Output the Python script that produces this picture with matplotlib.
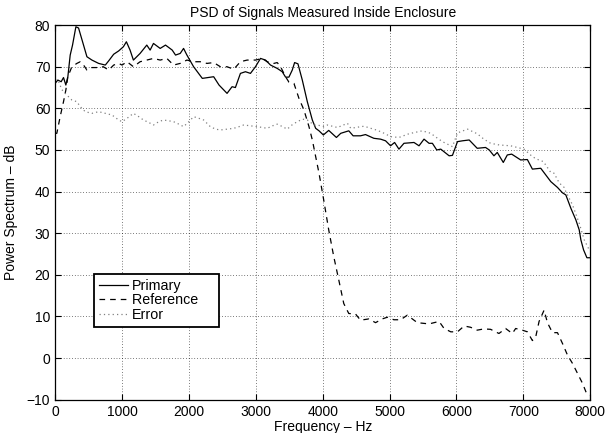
import matplotlib
matplotlib.use('Agg')
import matplotlib.pyplot as plt

plt.rcParams['font.family'] = ['Liberation Sans', 'DejaVu Sans']

# Primary signal PSD (Hz, dB)
f_primary = [0, 40, 90, 125, 160, 190, 225, 260, 310, 350, 410, 475, 550, 650, 750, 800,
             875, 950, 1020, 1065, 1120, 1170, 1270, 1370, 1420, 1470, 1570, 1650, 1750,
             1800, 1870, 1920, 1970, 2070, 2200, 2370, 2450, 2570, 2645, 2695, 2770, 2845,
             2920, 2995, 3070, 3145, 3220, 3320, 3395, 3445, 3495, 3545, 3580, 3630, 3695,
             3770, 3845, 3895, 3945, 4010, 4090, 4205, 4270, 4390, 4455, 4565, 4640, 4765,
             4865, 4940, 5015, 5075, 5140, 5215, 5365, 5440, 5515, 5590, 5640, 5705, 5765,
             5890, 5940, 6015, 6090, 6190, 6310, 6435, 6490, 6560, 6610, 6700, 6760, 6825,
             6960, 7060, 7135, 7260, 7335, 7410, 7510, 7585, 7635, 7710, 7785, 7835, 7860,
             7900, 7950, 8000]
primary = [66, 66.8, 66.4, 67.4, 65.6, 67.6, 72.8, 75.2, 79.6, 79.3, 76, 72.4, 71.6, 70.8,
           70.4, 71.4, 73, 73.8, 74.8, 76, 74, 71.6, 73.2, 75.2, 74, 75.6, 74.4, 75.2, 74,
           72.8, 73.2, 74.4, 72.8, 70, 67.2, 67.6, 65.6, 63.6, 65.2, 65, 68.4, 68.8, 68.4,
           70, 72, 71.6, 70.4, 69.6, 68.8, 67.5, 67.5, 69.2, 71, 70.7, 66.8, 61.6, 57.2,
           55.2, 54.6, 53.6, 54.7, 53, 54, 54.6, 53.4, 53.4, 53.7, 52.8, 52.6, 52.2, 51,
           51.8, 50.2, 51.6, 51.8, 51, 52.6, 51.6, 51.6, 50, 50.2, 48.6, 48.7, 52, 52.2,
           52.4, 50.4, 50.6, 50, 48.6, 49.4, 47, 48.8, 49, 47.6, 47.7, 45.4, 45.6, 44,
           42.4, 41, 39.7, 39.2, 36, 33.2, 30.8, 28.4, 26, 24.1, 24.1]

# Reference signal PSD
f_reference = [0, 25, 75, 125, 160, 190, 250, 325, 375, 425, 475, 550, 650, 720, 800, 875,
               950, 1000, 1075, 1170, 1270, 1370, 1470, 1570, 1670, 1770, 1870, 1970, 2070,
               2170, 2270, 2370, 2470, 2570, 2670, 2770, 2870, 2995, 3095, 3170, 3270, 3320,
               3370, 3445, 3495, 3570, 3645, 3720, 3795, 3845, 3895, 3945, 4015, 4090, 4165,
               4240, 4315, 4390, 4490, 4565, 4690, 4790, 4890, 4965, 5065, 5165, 5265, 5340,
               5415, 5590, 5740, 5815, 5915, 6015, 6115, 6210, 6310, 6410, 6510, 6635, 6735,
               6835, 6885, 6985, 7060, 7135, 7185, 7235, 7310, 7360, 7435, 7510, 7585, 7660,
               7735, 7810, 7885, 7935, 8000]
reference = [54, 54, 58, 61.6, 64.4, 67.6, 70, 70.8, 71.2, 70.4, 69.2, 69.8, 69.8, 70, 69.2,
             70.4, 70.8, 70.4, 71.2, 70, 71.2, 71.6, 72, 71.6, 72, 70.4, 70.8, 71.6, 71.2,
             71.2, 70.8, 71, 70, 70, 69.4, 71.2, 71.6, 71.6, 72, 71.2, 70.8, 71, 70, 67.6,
             66.3, 66, 62.4, 59.6, 55.6, 52.4, 48.4, 44.4, 38, 30.8, 24.4, 18.8, 13.1, 10.7,
             10.6, 9.1, 9.4, 8.5, 9.4, 9.8, 9.2, 9.2, 10.3, 9.4, 8.5, 8.2, 8.8, 7.1, 6.3, 6.3,
             7.7, 7.4, 6.7, 7, 6.9, 5.9, 7.1, 5.9, 7.1, 6.7, 6.3, 4.2, 5.1, 8.8, 11.5, 8.5,
             6.1, 6.1, 3.5, 0.7, -1.3, -3.7, -6.1, -8.1, -9]

# Error signal PSD
f_error = [0, 50, 100, 150, 250, 325, 375, 450, 550, 650, 750, 850, 950, 1000, 1075, 1170,
           1250, 1320, 1400, 1470, 1550, 1620, 1700, 1770, 1850, 1920, 2000, 2070, 2150,
           2220, 2320, 2400, 2470, 2570, 2670, 2750, 2820, 2920, 3020, 3100, 3170, 3250,
           3320, 3400, 3470, 3540, 3620, 3700, 3770, 3870, 3920, 4020, 4070, 4220, 4370,
           4420, 4570, 4620, 4720, 4820, 4920, 5015, 5140, 5290, 5490, 5615, 5700, 5790,
           5940, 6015, 6165, 6310, 6410, 6510, 6640, 6810, 6910, 7010, 7135, 7200, 7300,
           7410, 7460, 7535, 7610, 7635, 7735, 7835, 7910, 7985, 8000]
error = [67, 66.5, 64.5, 63.6, 62, 61.6, 60.4, 59.2, 58.8, 59.2, 58.8, 58.4, 57.2, 56.8,
         57.6, 58.8, 58, 57.2, 56.6, 56, 56.8, 57.2, 57, 56.8, 56.2, 55.6, 56.8, 58, 57.6,
         57.2, 55.6, 55, 54.8, 55, 55.2, 55.6, 56, 55.8, 55.6, 55.4, 55.2, 55.8, 56.2, 55.6,
         55, 56, 56.8, 57.4, 57.2, 56, 56, 55.6, 56, 55.4, 56.4, 55.2, 55.6, 55.7, 55.2,
         54.7, 54, 53.2, 53, 53.9, 54.6, 54, 53, 52, 50.8, 54.1, 55, 53.9, 52.6, 51.6, 51.2,
         51, 50.6, 50.2, 48.4, 47.8, 47.2, 44.6, 44.4, 42.1, 41, 40, 36.8, 32.4, 28.4, 26, 26]

fig = plt.figure(figsize=(6.06, 4.33), dpi=100)
ax = fig.add_axes([0.091, 0.077, 0.883, 0.865])

ax.plot(f_primary, primary, color='k', linewidth=0.9, linestyle='-', label='Primary')
ax.plot(f_reference, reference, color='k', linewidth=0.9, linestyle=(0, (4.5, 4)),
        label='Reference')
ax.plot(f_error, error, color='0.5', linewidth=0.9, linestyle=(0, (1, 2.5)), label='Error')

ax.set_xlim(0, 8000)
ax.set_ylim(-10, 80)
ax.set_xticks(range(0, 8001, 1000))
ax.set_yticks(range(-10, 81, 10))
ax.grid(True, color='k', linestyle=(0, (1, 3)), linewidth=0.5)
ax.tick_params(direction='in', top=True, right=True, length=4, labelsize=10, width=0.8)
for s in ax.spines.values():
    s.set_linewidth(0.9)

ax.set_xlabel('Frequency – Hz', fontsize=10, labelpad=1)
ax.set_ylabel('Power Spectrum – dB', fontsize=10, labelpad=6)
ax.set_title('PSD of Signals Measured Inside Enclosure', fontsize=10, pad=6)

# MATLAB-style legend: short handles, extra room on the right
leg = ax.legend(['Primary', 'Reference    ', 'Error'],
                loc='lower left', bbox_to_anchor=(0.073, 0.194), borderaxespad=0,
                fancybox=False, framealpha=1, edgecolor='k', fontsize=10.3,
                handlelength=2.0, handletextpad=0.3, labelspacing=0.05,
                borderpad=0.35)
leg.get_frame().set_linewidth(1.3)

fig.savefig('out.png', dpi=100)
